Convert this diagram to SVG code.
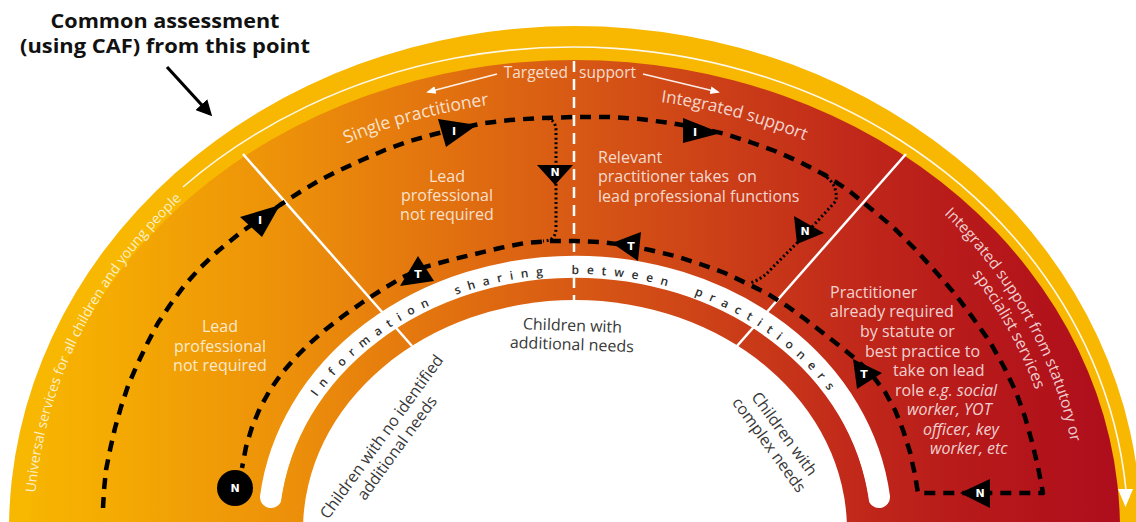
<svg xmlns="http://www.w3.org/2000/svg" width="1136" height="522" viewBox="0 0 1136 522">
<style>
 .sans{font-family:"Open Sans","Liberation Sans",Arial,sans-serif}
 .lt{fill:#fff;fill-opacity:.8}
 .dk{fill:#383838}
 .route{fill:none;stroke:#000;stroke-width:4.5;stroke-dasharray:11 8;stroke-linejoin:round}
 .dots{fill:none;stroke:#000;stroke-width:3;stroke-dasharray:2 2.6}
 .tri{fill:#000}
 .lbl{fill:#fff;font-family:"DejaVu Sans","Liberation Sans",sans-serif;font-weight:bold;text-anchor:middle}
 .divider{stroke:#fff;stroke-width:2.5}
</style>
<defs>
 <linearGradient id="zone" gradientUnits="userSpaceOnUse" x1="0" y1="0" x2="1136" y2="0">
  <stop offset="0" stop-color="#F8B800"/>
  <stop offset="0.09" stop-color="#F5AC02"/>
  <stop offset="0.26" stop-color="#EC8F0A"/>
  <stop offset="0.39" stop-color="#E2720F"/>
  <stop offset="0.5" stop-color="#D85A14"/>
  <stop offset="0.62" stop-color="#CD4217"/>
  <stop offset="0.75" stop-color="#C1291A"/>
  <stop offset="0.84" stop-color="#B81B1A"/>
  <stop offset="1" stop-color="#AD0C1C"/>
 </linearGradient>
 <marker id="blackHead" viewBox="0 0 10 10" refX="8" refY="5" markerWidth="5" markerHeight="5" orient="auto" markerUnits="strokeWidth">
  <path d="M0,0 L10,5 L0,10 Z" fill="#000"/>
 </marker>
 <marker id="whiteHead" viewBox="0 0 10 10" refX="8" refY="5" markerWidth="6" markerHeight="6" orient="auto" markerUnits="strokeWidth">
  <path d="M0,1 L10,5 L0,9 Z" fill="#fff"/>
 </marker>
 <path id="pUniversal" d="M34.7,504.8 A541 481 0 0 1 227,161.5"/>
 <path id="pSingle" d="M335,148.5 A516 431 0 0 1 700,111.8"/>
 <path id="pIntegrated" d="M575,96 A522 434 0 0 1 900,190.4"/>
 <path id="pSpec1" d="M944,214 A505 462 0 0 1 1078,570"/>
 <path id="pSpec2" d="M970.6,273 A485 442 0 0 1 1058,569"/>
 <path id="pInfo" d="M273,530 A302 256 0 0 1 575,274 A302 256 0 0 1 877,530"/>
</defs>
<rect width="1136" height="522" fill="#fff"/>

<g id="rings">
 <path d="M9,530 A566 504 0 0 1 1141,530 Z" fill="#F8B700"/>
 <path d="M30,530 A545 470 0 0 1 1120,530 Z" fill="url(#zone)"/>
 <path d="M183,187 A555 485 0 0 1 1126,490" fill="none" stroke="#fff" stroke-width="1.6" stroke-opacity="0.9"/>
 <polygon points="1118,489 1133,489 1125.5,507" fill="#fff"/>
 <path d="M271,497 A306 260 0 0 1 879,497" fill="none" stroke="#fff" stroke-width="22" stroke-linecap="round"/>
 <path d="M279,530 A296 249 0 0 1 871,530 Z" fill="url(#zone)"/>
 <path d="M303,530 A272 230 0 0 1 847,530 Z" fill="#fff"/>
 <line class="divider" x1="412" y1="346" x2="243" y2="154"/>
 <line class="divider" x1="737" y1="346" x2="906" y2="154"/>
 <line class="divider" x1="574" y1="61" x2="574" y2="300" stroke-dasharray="11 7"/>
</g>

<g id="labels" class="sans">
 <text x="165" y="28" font-size="20" font-weight="bold" fill="#111" text-anchor="middle" textLength="229" lengthAdjust="spacingAndGlyphs">Common assessment</text>
 <text x="165" y="53" font-size="20" font-weight="bold" fill="#111" text-anchor="middle" textLength="290" lengthAdjust="spacingAndGlyphs">(using CAF) from this point</text>
 <line x1="167" y1="67" x2="210" y2="114" stroke="#000" stroke-width="3.2" marker-end="url(#blackHead)"/>

 <text class="lt" font-size="15.5" x="568" y="78" text-anchor="end">Targeted</text>
 <text class="lt" font-size="15.5" x="579" y="78">support</text>
 <line x1="497" y1="74" x2="428" y2="92" stroke="#fff" stroke-opacity="0.9" stroke-width="1.6" marker-end="url(#whiteHead)"/>
 <line x1="643" y1="74" x2="718" y2="92" stroke="#fff" stroke-opacity="0.9" stroke-width="1.6" marker-end="url(#whiteHead)"/>

 <text class="lt" font-size="17.5"><textPath href="#pSingle" startOffset="12">Single practitioner</textPath></text>
 <text class="lt" font-size="17"><textPath href="#pIntegrated" startOffset="86">Integrated support</textPath></text>
 <text class="lt" font-size="14"><textPath href="#pUniversal" startOffset="12">Universal services for all children and young people</textPath></text>
 <text class="lt" font-size="15.5"><textPath href="#pSpec1" startOffset="0">Integrated support from statutory or</textPath></text>
 <text class="lt" font-size="16"><textPath href="#pSpec2" startOffset="2">specialist services</textPath></text>

 <text class="lt" font-size="16" text-anchor="middle"><tspan x="220" y="332">Lead</tspan><tspan x="220" y="352">professional</tspan><tspan x="220" y="371">not required</tspan></text>
 <text class="lt" font-size="16" text-anchor="middle"><tspan x="447" y="182">Lead</tspan><tspan x="447" y="201">professional</tspan><tspan x="447" y="220">not required</tspan></text>
 <text class="lt" font-size="16"><tspan x="598" y="163">Relevant</tspan><tspan x="598" y="182">practitioner takes&#160; on</tspan><tspan x="598" y="202">lead professional functions</tspan></text>
 <text class="lt" font-size="16">
  <tspan x="830" y="298">Practitioner</tspan>
  <tspan x="830" y="317">already required</tspan>
  <tspan x="860" y="337">by statute or</tspan>
  <tspan x="865" y="357">best practice to</tspan>
  <tspan x="893" y="376">take on lead</tspan>
  <tspan x="895" y="396">role <tspan font-style="italic">e.g. social</tspan></tspan>
  <tspan x="907" y="415" font-style="italic">worker, YOT</tspan>
  <tspan x="923" y="435" font-style="italic">officer, key</tspan>
  <tspan x="930" y="454" font-style="italic">worker, etc</tspan>
 </text>

 <text fill="#2e2e2e" font-size="12" font-weight="600" letter-spacing="7.7" word-spacing="10" text-anchor="middle"><textPath href="#pInfo" startOffset="50%">Information sharing between practitioners</textPath></text>

 <g transform="rotate(2 572 340)"><text class="dk" font-size="16" text-anchor="middle"><tspan x="572" y="331">Children with</tspan><tspan x="572" y="350">additional needs</tspan></text></g>
 <g transform="translate(386,440) rotate(-54)"><text class="dk" font-size="16" text-anchor="middle"><tspan x="0" y="0">Children with no identified</tspan><tspan x="0" y="19">additional needs</tspan></text></g>
 <g transform="translate(780,437) rotate(54)"><text class="dk" font-size="16" text-anchor="middle"><tspan x="0" y="0">Children with</tspan><tspan x="0" y="19">complex needs</tspan></text></g>
</g>

<g id="connectors">
 <path class="route" d="M103,508 L104,490 106,470 110,450 115,428 121,407 128,386 137,365 147,344 158,323 170,305 184,286 200,268 218,251 240,233 260,219 280,205 300,192 320,180 340,170 362,160 385,150 410,141 435,134 460,128 485,123 510,120 540,118 575,117 610,117 640,119 670,123 700,128 725,134 750,142 775,151 800,162 825,175 848,190 870,208 893,227 915,249 935,271 955,294 973,318 990,342 1004,367 1016,392 1025,417 1032,442 1038,467 1043,493 L918,493 L915,475 910,452 903,430 895,410 885,392 872,375 857,360 841,347 823,333 805,319 787,306 768,294 748,284 725,273 700,264 675,256 650,250 625,245 600,242 575,241 550,241 525,243 500,248 475,254 450,260 425,267 403,277 383,289 363,302 343,316 325,330 309,344 295,358 282,373 270,390 260,408 252,427 246,447 242,468"/>
 <path class="dots" d="M543,118 Q556,118 556,131 L556,228 Q556,241 543,241"/>
 <path class="dots" d="M823,175 Q838,183 836,201 L800,240 L772,268 Q763,279 750,283"/>
</g>

<g id="node-I1"><polygon class="tri" points="280,205 240,217 262,237"/><text class="lbl" font-size="11" x="260" y="224">I</text></g>
<g id="node-I2"><polygon class="tri" points="477,125 438,119 446,147"/><text class="lbl" font-size="11" x="454" y="135">I</text></g>
<g id="node-I3"><polygon class="tri" points="721,133 683,118 683,143"/><text class="lbl" font-size="11" x="695" y="136">I</text></g>
<g id="node-N1"><polygon class="tri" points="555,185 537,165 573,165"/><text class="lbl" font-size="11" x="555" y="176">N</text></g>
<g id="node-N2"><polygon class="tri" points="797,244 794,216 824,233"/><text class="lbl" font-size="11" x="805" y="235">N</text></g>
<g id="node-T1"><polygon class="tri" points="400,286 418,256 434,281"/><text class="lbl" font-size="11" x="418" y="278">T</text></g>
<g id="node-T2"><polygon class="tri" points="612,243 641,232 638,261"/><text class="lbl" font-size="11" x="631" y="250">T</text></g>
<g id="node-T3"><polygon class="tri" points="853,359 882,373 857,389"/><text class="lbl" font-size="11" x="864" y="378">T</text></g>
<g id="node-N3"><polygon class="tri" points="960,493 990,479 990,508"/><text class="lbl" font-size="11" x="980" y="497">N</text></g>
<g id="node-N4"><circle cx="235" cy="488" r="18" fill="#000"/><text class="lbl" font-size="11" x="235" y="492">N</text></g>
</svg>
